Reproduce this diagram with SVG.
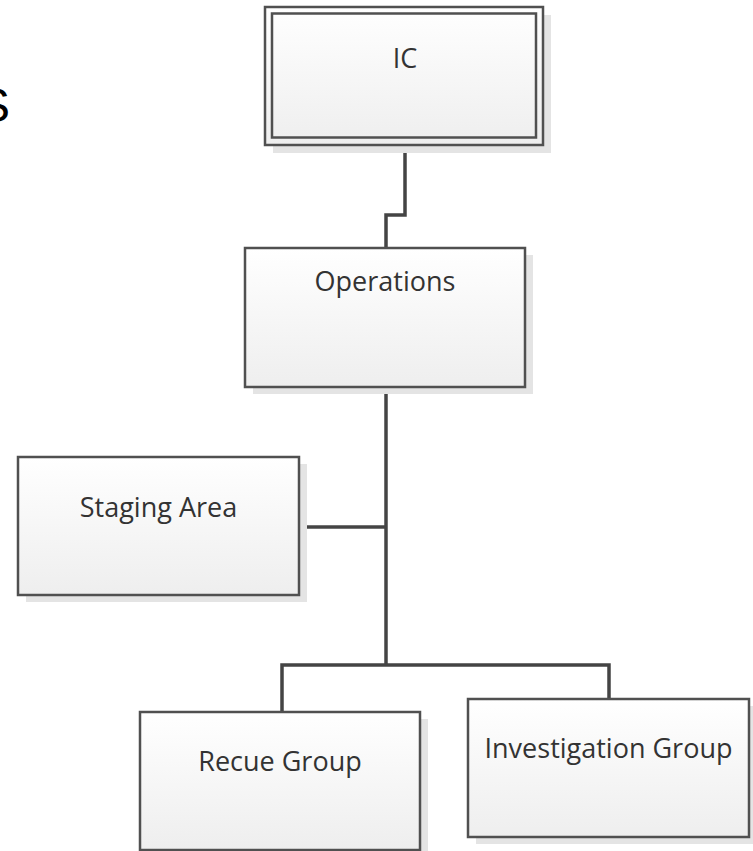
<svg xmlns="http://www.w3.org/2000/svg" width="753" height="851" viewBox="0 0 753 851">
  <defs>
    <linearGradient id="boxfill" x1="0" y1="0" x2="0" y2="1">
      <stop offset="0" stop-color="#ffffff"/>
      <stop offset="1" stop-color="#eeeeee"/>
    </linearGradient>
    <style>
      .shadow { fill: #e4e4e4; }
      .box { fill: url(#boxfill); stroke: #505050; stroke-width: 2.5; }
      .inner { fill: none; stroke: #505050; stroke-width: 2.5; }
      .label { font-family: "Open Sans", "Noto Sans", "DejaVu Sans", sans-serif; font-size: 27px; fill: #333333; text-anchor: middle; }
      .conn { fill: none; stroke: #444444; stroke-width: 3.5; }
    </style>
  </defs>
  <rect width="753" height="851" fill="#ffffff"/>
  <text x="-22" y="122" font-family="Liberation Sans, Arial, sans-serif" font-size="48" fill="#000000">S</text>

  <g id="connectors">
    <path class="conn" d="M405,145 V215 H386 V248"/>
    <path class="conn" d="M386,387 V665"/>
    <path class="conn" d="M299,527 H386"/>
    <path class="conn" d="M282,712 V665 H609 V699"/>
  </g>

  <g id="node-ic">
    <rect class="shadow" x="273" y="15" width="278" height="138"/>
    <rect class="box" x="265" y="7" width="278" height="138"/>
    <rect class="inner" x="272" y="13.5" width="264" height="124"/>
    <text class="label" x="405" y="68">IC</text>
  </g>

  <g id="node-operations">
    <rect class="shadow" x="253" y="255" width="280" height="139"/>
    <rect class="box" x="245" y="248" width="280" height="139"/>
    <text class="label" x="385" y="291">Operations</text>
  </g>

  <g id="node-staging">
    <rect class="shadow" x="26" y="464" width="281" height="138"/>
    <rect class="box" x="18" y="457" width="281" height="138"/>
    <text class="label" x="158.5" y="517">Staging Area</text>
  </g>

  <g id="node-rescue">
    <rect class="shadow" x="148" y="719" width="280" height="138"/>
    <rect class="box" x="140" y="712" width="280" height="138"/>
    <text class="label" x="280" y="771">Recue Group</text>
  </g>

  <g id="node-investigation">
    <rect class="shadow" x="476" y="706" width="281" height="138"/>
    <rect class="box" x="468" y="699" width="281" height="138"/>
    <text class="label" x="608.5" y="758">Investigation Group</text>
  </g>
</svg>
